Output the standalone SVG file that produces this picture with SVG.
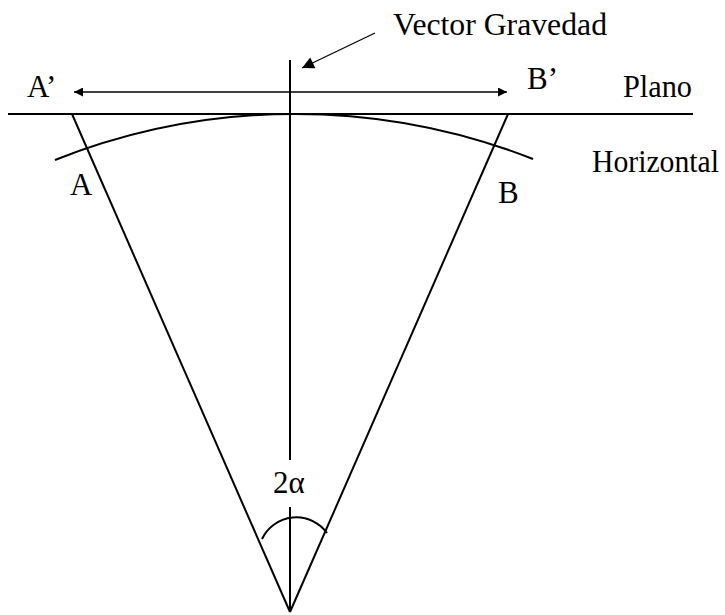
<svg xmlns="http://www.w3.org/2000/svg" width="725" height="615" viewBox="0 0 725 615">
<style>
.ln{stroke:#000;stroke-width:2;fill:none}
.thin{stroke:#000;stroke-width:1.3;fill:none}
text{font-family:"Times New Roman","Liberation Serif","DejaVu Serif",serif;font-size:31px;fill:#000}
</style>
<defs>
<marker id="ah" viewBox="0 0 10 10" refX="10" refY="5" markerWidth="11" markerHeight="9" markerUnits="userSpaceOnUse" orient="auto-start-reverse">
<path d="M0,0 L10,5 L0,10 z" fill="#000"/>
</marker>
<marker id="ah2" viewBox="0 0 10 10" refX="10" refY="5" markerWidth="14" markerHeight="12" markerUnits="userSpaceOnUse" orient="auto">
<path d="M0,0 L10,5 L0,10 z" fill="#000"/>
</marker>
</defs>
<rect width="725" height="615" fill="#fff"/>
<g id="connectors">
<line class="ln" x1="8" y1="114" x2="693" y2="114"/>
<line class="ln" x1="290" y1="60" x2="290" y2="460"/>
<line class="ln" x1="290" y1="507" x2="290" y2="612"/>
<line class="ln" x1="72" y1="114" x2="290" y2="612"/>
<line class="ln" x1="508" y1="114" x2="290" y2="612"/>
<path class="ln" d="M55,160 A649,649 0 0 1 533,159"/>
<path class="ln" d="M262,539 A38,38 0 0 1 327,533"/>
<line class="thin" x1="74" y1="92" x2="507" y2="92" marker-start="url(#ah)" marker-end="url(#ah)"/>
<line class="thin" x1="375" y1="33" x2="302" y2="68" marker-end="url(#ah2)"/>
</g>
<g id="label-vector"><text x="393" y="35" textLength="214" lengthAdjust="spacingAndGlyphs">Vector Gravedad</text></g>
<g id="label-Ap"><text x="27" y="97">A’</text></g>
<g id="label-Bp"><text x="527" y="89">B’</text></g>
<g id="label-plano"><text x="623" y="97" textLength="69" lengthAdjust="spacingAndGlyphs">Plano</text></g>
<g id="label-horizontal"><text x="592" y="172" textLength="127" lengthAdjust="spacingAndGlyphs">Horizontal</text></g>
<g id="label-A"><text x="70" y="195">A</text></g>
<g id="label-B"><text x="498" y="203">B</text></g>
<g id="label-angle"><text x="273" y="493">2α</text></g>
</svg>
